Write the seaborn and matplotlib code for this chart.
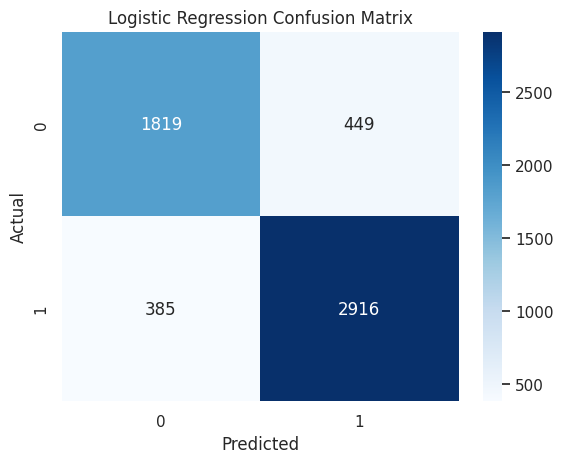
import numpy as np
import matplotlib
matplotlib.use("Agg")
from matplotlib import pyplot as plt
import seaborn as sns

labels = ["0", "1"]
counts = np.array([[1819, 449],
                   [385, 2916]])

sns.set_theme()
plt.figure(figsize=(6.4, 4.8))
ax = sns.heatmap(counts, annot=True, fmt="d", cmap="Blues",
                 xticklabels=labels, yticklabels=labels)
ax.set_title("Logistic Regression Confusion Matrix")
ax.set_xlabel("Predicted")
ax.set_ylabel("Actual")
plt.savefig("out.png", dpi=100, bbox_inches="tight")
